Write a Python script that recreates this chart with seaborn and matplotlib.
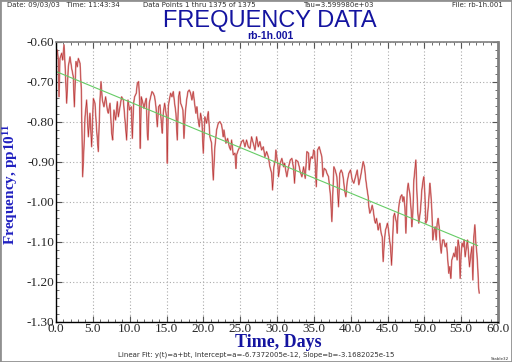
import numpy as np
import pandas as pd
import matplotlib
matplotlib.use("Agg")
import matplotlib.pyplot as plt
from matplotlib.ticker import MultipleLocator, FormatStrFormatter
from matplotlib.patches import Rectangle
import seaborn as sns


# ----- data (days, frequency in pp10^11) -----
days = [
    0.00, 0.18, 0.32, 0.41, 0.54, 0.77, 0.90, 1.09, 1.22, 1.45, 1.67, 1.90, 2.13, 2.35, 2.49,
    2.71, 2.89, 3.03, 3.26, 3.44, 3.62, 3.80, 3.94, 4.16, 4.39, 4.61, 4.84, 5.07, 5.29, 5.52,
    5.74, 5.97, 6.11, 6.29, 6.51, 6.74, 6.97, 7.10, 7.33, 7.56, 7.69, 7.87, 8.10, 8.32, 8.46,
    8.68, 8.91, 9.14, 9.36, 9.59,
    9.77, 9.99, 10.22, 10.36, 10.54, 10.67, 10.90, 11.04, 11.22, 11.35, 11.44, 11.58, 11.80,
    11.94, 12.12, 12.26, 12.39, 12.48, 12.66, 12.85, 13.03, 13.21, 13.39, 13.57, 13.75, 13.93,
    14.11, 14.29, 14.43, 14.56, 14.75, 14.88, 15.02, 15.11, 15.24, 15.38, 15.56, 15.74, 15.92,
    16.10, 16.28, 16.46, 16.64, 16.78, 16.92, 17.10, 17.23, 17.37, 17.55, 17.73, 17.91, 18.09,
    18.27, 18.45, 18.63, 18.81, 18.99, 19.13, 19.27, 19.45, 19.63, 19.81, 19.99,
    20.21, 20.44, 20.67, 20.89, 21.12, 21.35, 21.57, 21.80, 22.03, 22.25, 22.48, 22.71, 22.80,
    23.07, 23.30, 23.52, 23.70, 23.84, 24.06, 24.29, 24.43, 24.52, 24.74, 24.97, 25.19, 25.42,
    25.65, 25.87, 26.10, 26.33, 26.55, 26.78, 27.01, 27.23, 27.46, 27.68, 27.91, 28.14, 28.36,
    28.59, 28.82, 29.04, 29.27, 29.40, 29.58, 29.76,
    29.85, 30.12, 30.21, 30.44, 30.66, 30.89, 31.03, 31.21, 31.34, 31.57, 31.80, 32.02, 32.25,
    32.38, 32.56, 32.84, 33.02, 33.15, 33.38, 33.61, 33.83, 34.06, 34.29, 34.38, 34.51, 34.65,
    34.83, 34.97, 35.10, 35.19, 35.33, 35.51, 35.73, 35.91, 36.09, 36.23, 36.41, 36.64, 36.77,
    37.00, 37.13, 37.27, 37.45, 37.58, 37.72, 37.90, 38.13, 38.35, 38.53, 38.71, 38.89, 39.03,
    39.17, 39.35, 39.53,
    39.76, 39.98, 40.21, 40.43, 40.66, 40.89, 41.11, 41.34, 41.57, 41.70, 41.88, 42.06, 42.24,
    42.38, 42.47, 42.60, 42.78, 42.92, 43.06, 43.24, 43.37, 43.51, 43.60, 43.74, 43.87, 43.96,
    44.14, 44.28, 44.41, 44.59, 44.73, 44.87, 45.00, 45.14, 45.28, 45.41, 45.55, 45.68, 45.82,
    45.96, 46.09, 46.23, 46.32, 46.41, 46.59, 46.77, 46.95, 47.09, 47.22, 47.36, 47.50, 47.67,
    47.81, 47.94, 48.03, 48.21, 48.30, 48.44, 48.58, 48.71, 48.85, 48.98, 49.12, 49.25,
    49.48, 49.66, 49.84, 49.93, 50.07, 50.20, 50.38, 50.57, 50.75, 50.88, 51.02, 51.15, 51.33,
    51.47, 51.61, 51.74, 51.88, 52.01, 52.15, 52.29, 52.47, 52.65, 52.83, 53.01, 53.19, 53.32,
    53.46, 53.59, 53.73, 53.87, 54.00, 54.14, 54.27, 54.45, 54.59, 54.73, 54.86, 55.00, 55.13,
    55.27, 55.41, 55.54, 55.72, 55.86, 56.00, 56.13, 56.27, 56.45, 56.59, 56.72, 56.86, 57.00,
    57.13, 57.27, 57.36, 57.45,
]
freq = [
    -0.632, -0.620, -0.645, -0.737, -0.641, -0.628, -0.645, -0.607, -0.653, -0.753, -0.662,
    -0.637, -0.666, -0.687, -0.762, -0.649, -0.662, -0.641, -0.653, -0.720, -0.937, -0.862,
    -0.787, -0.745, -0.837, -0.778, -0.862, -0.741, -0.753, -0.820, -0.874, -0.745, -0.699,
    -0.745, -0.762, -0.737, -0.770, -0.778, -0.753, -0.828, -0.845, -0.770, -0.795, -0.749,
    -0.787, -0.762, -0.737, -0.745, -0.795, -0.845,
    -0.745, -0.770, -0.762, -0.841, -0.753, -0.737, -0.728, -0.703, -0.699, -0.745, -0.866,
    -0.737, -0.753, -0.766, -0.749, -0.741, -0.828, -0.845, -0.753, -0.737, -0.724, -0.728,
    -0.737, -0.762, -0.812, -0.762, -0.757, -0.799, -0.828, -0.778, -0.753, -0.770, -0.791,
    -0.903, -0.762, -0.745, -0.728, -0.737, -0.724, -0.753, -0.778, -0.845, -0.737, -0.724,
    -0.753, -0.762, -0.770, -0.841, -0.778, -0.745, -0.724, -0.720, -0.728, -0.745, -0.724,
    -0.753, -0.778, -0.762, -0.791, -0.812, -0.778, -0.799, -0.878,
    -0.787, -0.803, -0.774, -0.837, -0.853, -0.945, -0.862, -0.820, -0.803, -0.799, -0.807,
    -0.837, -0.820, -0.853, -0.841, -0.862, -0.870, -0.845, -0.882, -0.878, -0.916, -0.882,
    -0.870, -0.862, -0.849, -0.845, -0.862, -0.845, -0.862, -0.866, -0.837, -0.853, -0.870,
    -0.837, -0.862, -0.849, -0.870, -0.862, -0.887, -0.874, -0.887, -0.912, -0.928, -0.970,
    -0.912, -0.895,
    -0.870, -0.907, -0.937, -0.903, -0.891, -0.912, -0.903, -0.924, -0.937, -0.912, -0.895,
    -0.891, -0.916, -0.953, -0.895, -0.899, -0.912, -0.924, -0.937, -0.912, -0.941, -0.874,
    -0.878, -0.920, -0.895, -0.887, -0.891, -0.870, -0.874, -0.903, -0.962, -0.870, -0.862,
    -0.874, -0.887, -0.937, -0.916, -0.920, -0.928, -0.937, -0.962, -0.987, -1.049, -0.978,
    -0.912, -0.920, -0.937, -1.012, -0.928, -0.920, -0.928, -0.945, -0.970, -0.987, -0.949,
    -0.928, -0.920, -0.945, -0.953, -0.937, -0.920, -0.957, -0.937, -0.912, -0.899, -0.912,
    -0.945, -0.970, -0.987, -1.012, -1.028, -1.020, -1.008, -1.020, -1.045, -1.053, -1.041,
    -1.053, -1.070, -1.058, -1.053, -1.078, -1.087, -1.149, -1.095, -1.070, -1.062, -1.053,
    -1.070, -1.095, -1.112, -1.158, -1.103, -1.037, -1.028, -1.041, -1.053, -1.078, -1.037,
    -1.003, -0.987, -0.982, -0.999, -0.987, -1.012, -1.078, -0.974, -0.953, -0.970, -0.978,
    -1.020, -1.062, -1.028, -0.945, -0.920, -0.895, -0.970, -1.028, -1.053,
    -1.020, -0.970, -0.945, -0.937, -0.978, -1.053, -1.045, -1.003, -0.953, -0.978, -1.020,
    -1.095, -1.070, -1.062, -1.095, -1.053, -1.041, -1.062, -1.103, -1.128, -1.095, -1.095,
    -1.112, -1.103, -1.145, -1.178, -1.162, -1.191, -1.145, -1.137, -1.128, -1.137, -1.112,
    -1.145, -1.095, -1.112, -1.191, -1.128, -1.103, -1.112, -1.095, -1.137, -1.112, -1.095,
    -1.128, -1.162, -1.137, -1.112, -1.195, -1.087, -1.057, -1.103, -1.128, -1.170, -1.212,
    -1.228,
]

fit_intercept = -6.7372005e-12
fit_slope = -3.1682025e-15   # per tau
tau = 3.5999800e+03
n_points = 1375

x_ticks = np.arange(0, 60.1, 5.0)
y_ticks = np.arange(-1.30, -0.599, 0.10)

header_left = "Date: 09/03/03   Time: 11:43:34"
header_mid = "Data Points 1 thru 1375 of 1375"
header_tau = "Tau=3.599980e+03"
header_file = "File: rb-1h.001"
fit_text = "Linear Fit: y(t)=a+bt, Intercept=a=-6.7372005e-12, Slope=b=-3.1682025e-15"

blue = "#1414a0"

sns.set_style("ticks")
plt.rcParams["font.family"] = ["Liberation Serif", "DejaVu Serif"]
plt.rcParams["mathtext.default"] = "regular"

fig = plt.figure(figsize=(5.12, 3.62), dpi=100)
ax = fig.add_axes([56 / 512, 1 - 322 / 362, 442 / 512, 280 / 362])

df = pd.DataFrame({"days": days, "freq": freq})
sns.lineplot(data=df, x="days", y="freq", ax=ax, color="#dc9494", lw=1.2,
             estimator=None, sort=False)
sns.lineplot(data=df, x="days", y="freq", ax=ax, color="#a80000", lw=0.35,
             estimator=None, sort=False, alpha=0.75)

# linear fit from the stated coefficients
t_end = (n_points - 1) * tau / 86400
fit = pd.DataFrame({"days": [0.0, t_end]})
fit["freq"] = (fit_intercept + fit_slope * fit["days"] * 86400 / tau) * 1e11
sns.lineplot(data=fit, x="days", y="freq", ax=ax, color="#66cc66", lw=0.8)

ax.set_xlim(0, 60)
ax.set_ylim(-1.30, -0.60)
ax.set_xticks(x_ticks)
ax.set_yticks(y_ticks)
ax.xaxis.set_major_formatter(FormatStrFormatter("%.1f"))
ax.yaxis.set_major_formatter(FormatStrFormatter("%.2f"))
ax.xaxis.set_minor_locator(MultipleLocator(1.0))
ax.yaxis.set_minor_locator(MultipleLocator(0.02))
ax.tick_params(which="both", direction="in", top=True, right=True, color="#555555")
ax.tick_params(which="major", length=4, width=0.8, labelsize=9.5, pad=1)
ax.tick_params(which="minor", length=2, width=0.6)
ax.grid(True, which="major", linestyle=(0, (1, 2)), color="#aaaaaa", lw=0.8)

for side in ["left", "bottom"]:
    ax.spines[side].set_color("black")
    ax.spines[side].set_linewidth(1.0)
ax.spines["top"].set_color("#808080")
ax.spines["top"].set_linewidth(1.2)
ax.spines["right"].set_color("#808080")
ax.spines["right"].set_linewidth(2.0)

ax.set_xlabel("")
ax.set_ylabel("")
fig.text(278 / 512, 1 - 347 / 362, "Time, Days", color=blue, fontsize=13,
         fontweight="bold", ha="center", va="baseline")
fig.text(11 / 512, 1 - 184 / 362, "Frequency, pp10$^{11}$", color="#2020c0", fontsize=11,
         fontweight="bold", rotation=90, ha="center", va="center")

sans = ["Liberation Sans", "DejaVu Sans"]
fig.text(270 / 512, 1 - 27 / 362, "FREQUENCY DATA", color=blue, fontsize=17,
         family=sans, ha="center", va="baseline")
fig.text(270 / 512, 1 - 39 / 362, "rb-1h.001", color=blue, fontsize=7.5,
         family=sans, fontweight="bold", ha="center", va="baseline")

small = dict(family=["DejaVu Sans"], fontsize=5, color="#303030", va="center")
fig.text(7 / 512, 1 - 5 / 362, header_left, ha="left", **small)
fig.text(199 / 512, 1 - 5 / 362, header_mid, ha="center", **small)
fig.text(338 / 512, 1 - 5 / 362, header_tau, ha="center", **small)
fig.text(503 / 512, 1 - 5 / 362, header_file, ha="right", **small)
fig.text(256 / 512, 1 - 355 / 362, fit_text, ha="center", **small)
fig.text(500 / 512, 1 - 359 / 362, "Stable32", family=["DejaVu Sans"], fontsize=3,
         color="#303030", ha="center", va="center")

fig.patches.append(Rectangle((0, 0), 1, 1, transform=fig.transFigure, fill=False,
                             edgecolor="#909090", lw=2))

fig.savefig("out.png", dpi=100)
